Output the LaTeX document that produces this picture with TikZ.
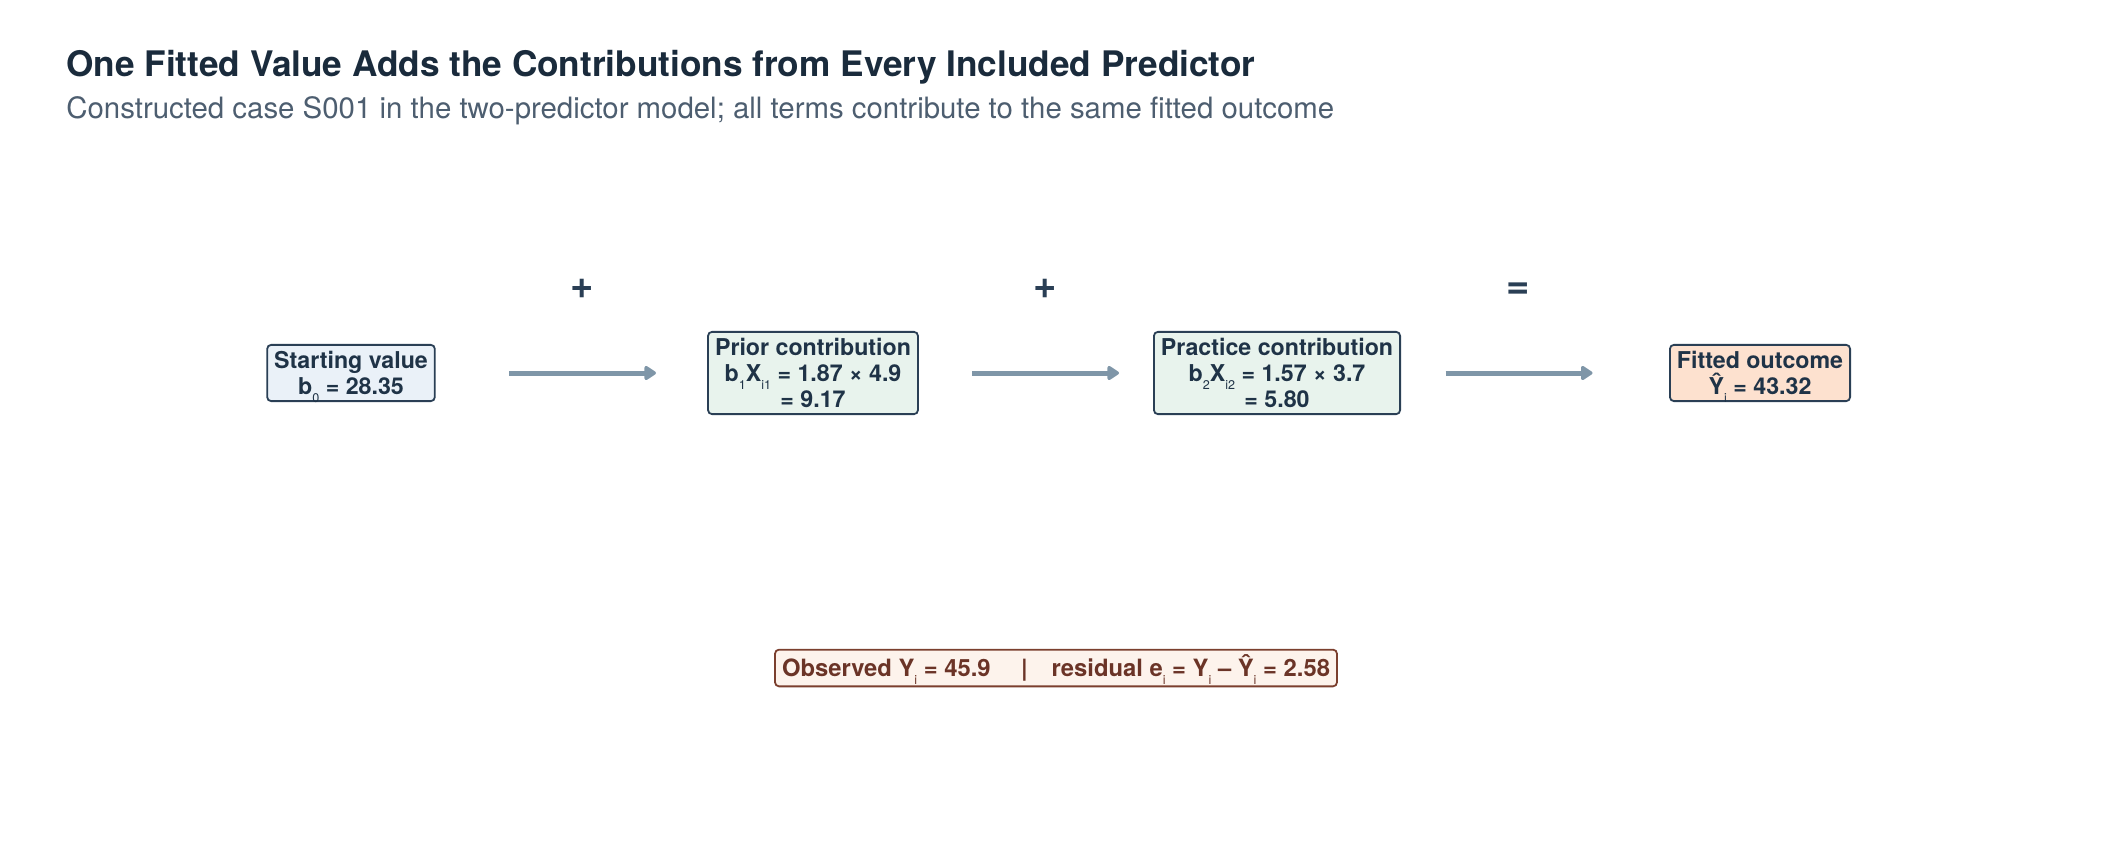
\documentclass[tikz,border=0pt]{standalone}
\usepackage{fontspec}
\setmainfont{TeX Gyre Heros}
\usepackage{tikz}
\usetikzlibrary{positioning,arrows.meta,calc}
\definecolor{colortitle}  {RGB}{26 ,43 ,60 }
\definecolor{colorsub}    {RGB}{77 ,94 ,112}
\definecolor{colortext}   {RGB}{31 ,51 ,71 }
\definecolor{colorline}   {RGB}{42 ,63 ,85 }
\definecolor{colorarrow}  {RGB}{127,150,168}
\definecolor{fillstart}   {RGB}{234,241,248}
\definecolor{fillterm}    {RGB}{232,243,237}
\definecolor{fillfit}     {RGB}{253,225,207}
\definecolor{fillobs}     {RGB}{253,243,236}
\definecolor{colorobs}    {RGB}{107,52 ,39 }
\definecolor{lineobs}     {RGB}{123,63 ,46 }
\newcommand{\lowsub}[1]{\raisebox{-3.8pt}[0pt][0pt]{\fontsize{6.3pt}{6.3pt}\selectfont\mdseries #1}}

\begin{document}
\begin{tikzpicture}[
    x=0.5pt, y=-0.5pt,
    txttitle/.style={text=colortitle,font={\fontsize{17.6pt}{20pt}\selectfont\bfseries},anchor=base west,inner sep=0pt},
    txtsub/.style={text=colorsub,font={\fontsize{14.7pt}{17pt}\selectfont},anchor=base west,inner sep=0pt},
    box/.style={draw=colorline,line width=0.9pt,rounded corners=2pt,text=colortext,align=center,
        font={\fontsize{11.6pt}{13pt}\selectfont\bfseries},inner xsep=3.5pt,inner ysep=3.2pt},
    op/.style={text=colorline,font={\fontsize{20pt}{20pt}\selectfont\bfseries},inner sep=0pt},
    flow/.style={draw=colorarrow,line width=2.5pt,-{Triangle[length=6.5pt,width=8pt,round]}},
]

    \useasboundingbox (0,0) rectangle (2112,844);

    \node[txttitle] (title)    at (66,77)  {One Fitted Value Adds the Contributions from Every Included Predictor};
    \node[txtsub]   (subtitle) at (66,119) {Constructed case S001 in the two-predictor model; all terms contribute to the same fitted outcome};

    \node[box,fill=fillstart] (start)    at (351,373)  {Starting value\\b\lowsub{0} = 28.35};
    \node[box,fill=fillterm]  (prior)    at (813,373)  {Prior contribution\\b\lowsub{1}X\lowsub{i1} = 1.87 × 4.9\\= 9.17};
    \node[box,fill=fillterm]  (practice) at (1277,373) {Practice contribution\\b\lowsub{2}X\lowsub{i2} = 1.57 × 3.7\\= 5.80};
    \node[box,fill=fillfit]   (fitted)   at (1760,373) {Fitted outcome\\Ŷ\lowsub{i} = 43.32};

    \coordinate (m1) at ($(start)!0.5!(prior)$);
    \coordinate (m2) at ($(prior)!0.5!(practice)$);
    \coordinate (m3) at ($(practice)!0.5!(fitted)$);

    \draw[flow] ([xshift=-36.5pt]m1) -- ([xshift=37pt]m1);
    \draw[flow] ([xshift=-36.5pt]m2) -- ([xshift=37pt]m2);
    \draw[flow] ([xshift=-36.5pt]m3) -- ([xshift=37pt]m3);

    \node[op,above=37pt of m1] (plusa) {+};
    \node[op,above=37pt of m2] (plusb) {+};
    \node[op,above=37pt of m3] (equal) {=};

    \node[box,fill=fillobs,draw=lineobs,text=colorobs,inner ysep=2.5pt,
        font={\fontsize{11.9pt}{13pt}\selectfont\bfseries}] (observed) at (1056,668)
        {Observed Y\lowsub{i} = 45.9 \quad|\quad residual e\lowsub{i} = Y\lowsub{i} – Ŷ\lowsub{i} = 2.58};

\end{tikzpicture}
\end{document}
